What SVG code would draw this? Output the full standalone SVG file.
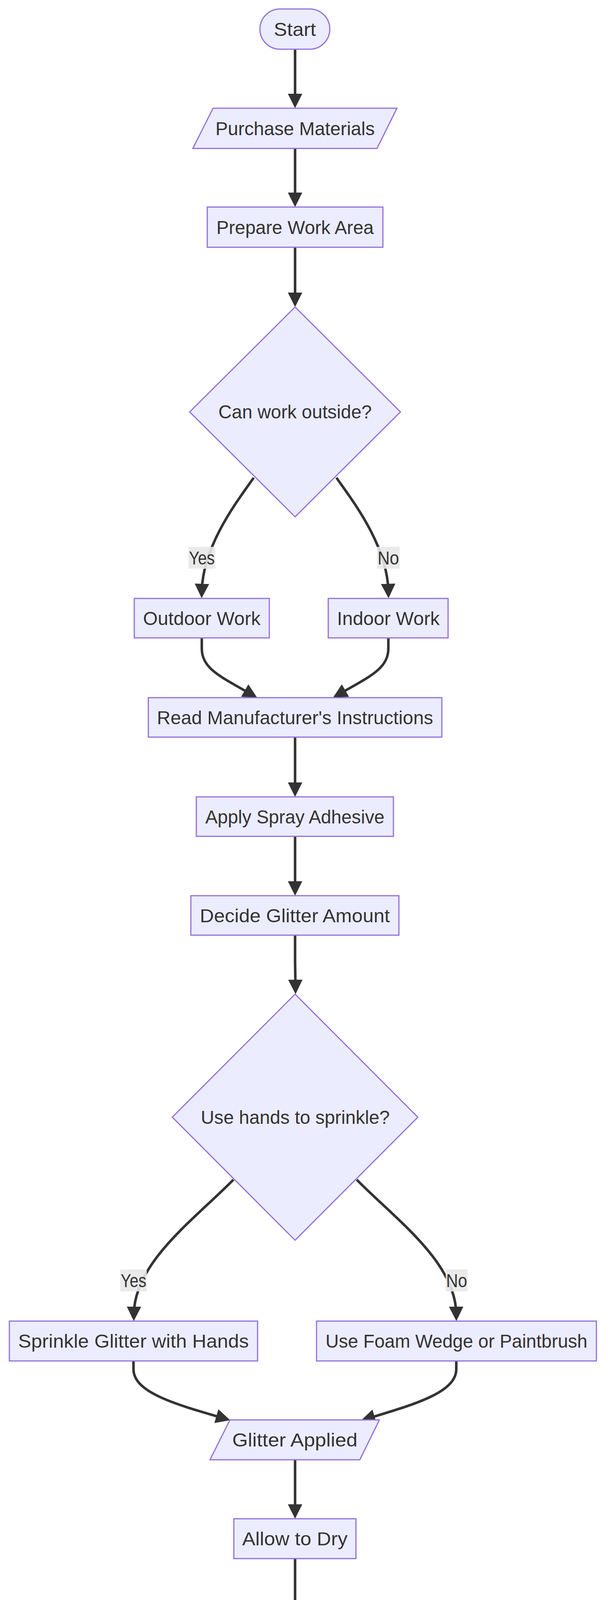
<svg xmlns="http://www.w3.org/2000/svg" width="1568" height="6070" viewBox="0 0 1568 6070">
<defs>
<style>
.node{fill:#ECECFF;stroke:#9370DB;stroke-width:3}
.edge{fill:none;stroke:#333333;stroke-width:6.5}
.lbl{fill:#333333;font-family:"Liberation Sans",Arial,sans-serif;font-size:48px;text-anchor:middle}
.elbg{fill:#e8e8e8;opacity:0.9}
</style>
<marker id="arrow" viewBox="0 0 10 10" refX="5" refY="5" markerUnits="userSpaceOnUse" markerWidth="37" markerHeight="37" orient="auto">
<path d="M0,0 L10,5 L0,10 z" fill="#333333"/>
</marker>
</defs>
<rect width="1568" height="6070" fill="#ffffff"/>
<g id="connectors">
<path class="edge" marker-end="url(#arrow)" d="M756,126 L756,258.5"/>
<path class="edge" marker-end="url(#arrow)" d="M756,380 L756,511.5"/>
<path class="edge" marker-end="url(#arrow)" d="M756,633 L756,767.5"/>
<path class="edge" marker-end="url(#arrow)" d="M650,1223 C610,1280 520,1395 517,1513"/>
<path class="edge" marker-end="url(#arrow)" d="M862,1223 C902,1280 992,1395 995,1513"/>
<path class="edge" marker-end="url(#arrow)" d="M517,1633 L517,1660 C517,1712 565,1732 643,1777"/>
<path class="edge" marker-end="url(#arrow)" d="M995,1633 L995,1660 C995,1712 947,1732 869,1777"/>
<path class="edge" marker-end="url(#arrow)" d="M756,1887 L756,2021.5"/>
<path class="edge" marker-end="url(#arrow)" d="M756,2141 L756,2274.5"/>
<path class="edge" marker-end="url(#arrow)" d="M756,2394 L756,2460 L757,2526.5"/>
<path class="edge" marker-end="url(#arrow)" d="M598,3020 C500,3120 345,3230 343,3363.5"/>
<path class="edge" marker-end="url(#arrow)" d="M914,3020 C1012,3120 1167,3230 1169,3363.5"/>
<path class="edge" marker-end="url(#arrow)" d="M342,3484 L342,3505 C342,3565 450,3595 572,3630.5"/>
<path class="edge" marker-end="url(#arrow)" d="M1169,3484 L1169,3505 C1169,3565 1062,3595 942,3631.5"/>
<path class="edge" marker-end="url(#arrow)" d="M756,3737 L756,3869.5"/>
<path class="edge" marker-end="url(#arrow)" d="M756,3990 L756,4123.5"/>
<path class="edge" marker-end="url(#arrow)" d="M756,4244 L756,4377.5"/>
<path class="edge" marker-end="url(#arrow)" d="M833,4784 C870,4860 921,4940 921,5046.5"/>
<path class="edge" marker-end="url(#arrow)" d="M680,4784 C630,4880 591,4950 591,5080 L591,5450 C591,5530 615,5570 674,5617"/>
<path class="edge" marker-end="url(#arrow)" d="M921,5167 L921,5270 L922,5356.5"/>
<path class="edge" marker-end="url(#arrow)" d="M922,5477 L922,5505 C922,5560 890,5580 837,5617"/>
<path class="edge" marker-end="url(#arrow)" d="M756,5730 L756,5863.5"/>
</g>
<g id="edge-labels">
<g id="label-yes-1"><rect class="elbg" x="483" y="1400" width="68" height="56"/><text class="lbl" x="517" y="1445" textLength="66" lengthAdjust="spacingAndGlyphs">Yes</text></g>
<g id="label-no-1"><rect class="elbg" x="966" y="1400" width="58" height="56"/><text class="lbl" x="995" y="1445" textLength="55" lengthAdjust="spacingAndGlyphs">No</text></g>
<g id="label-yes-2"><rect class="elbg" x="308" y="3250" width="68" height="56"/><text class="lbl" x="342" y="3295" textLength="66" lengthAdjust="spacingAndGlyphs">Yes</text></g>
<g id="label-no-2"><rect class="elbg" x="1142" y="3250" width="56" height="56"/><text class="lbl" x="1170" y="3295" textLength="54" lengthAdjust="spacingAndGlyphs">No</text></g>
<g id="label-yes-3"><rect class="elbg" x="887" y="4934" width="68" height="56"/><text class="lbl" x="921" y="4979" textLength="66" lengthAdjust="spacingAndGlyphs">Yes</text></g>
<g id="label-no-3"><rect class="elbg" x="562" y="5244" width="56" height="56"/><text class="lbl" x="590" y="5289" textLength="54" lengthAdjust="spacingAndGlyphs">No</text></g>
</g>
<g id="start"><rect class="node" x="666" y="23" width="179" height="103" rx="51.5" ry="51.5"/><text class="lbl" x="755.5" y="92" textLength="108" lengthAdjust="spacingAndGlyphs">Start</text></g>
<g id="purchase-materials"><polygon class="node" points="546,277 1017,277 966,380 494,380"/><text class="lbl" x="756" y="346" textLength="408" lengthAdjust="spacingAndGlyphs">Purchase Materials</text></g>
<g id="prepare-work-area"><rect class="node" x="531" y="530" width="450" height="103"/><text class="lbl" x="756" y="599" textLength="403" lengthAdjust="spacingAndGlyphs">Prepare Work Area</text></g>
<g id="can-work-outside"><polygon class="node" points="756,786 1026,1054.5 756,1323 486,1054.5"/><text class="lbl" x="756" y="1071" textLength="393" lengthAdjust="spacingAndGlyphs">Can work outside?</text></g>
<g id="outdoor-work"><rect class="node" x="344" y="1532" width="346" height="101"/><text class="lbl" x="517" y="1600" textLength="301" lengthAdjust="spacingAndGlyphs">Outdoor Work</text></g>
<g id="indoor-work"><rect class="node" x="841" y="1532" width="307" height="101"/><text class="lbl" x="995" y="1600" textLength="263" lengthAdjust="spacingAndGlyphs">Indoor Work</text></g>
<g id="read-instructions"><rect class="node" x="380" y="1786" width="752" height="101"/><text class="lbl" x="756" y="1854" textLength="708" lengthAdjust="spacingAndGlyphs">Read Manufacturer's Instructions</text></g>
<g id="apply-spray-adhesive"><rect class="node" x="503" y="2040" width="505" height="101"/><text class="lbl" x="755.5" y="2108" textLength="459" lengthAdjust="spacingAndGlyphs">Apply Spray Adhesive</text></g>
<g id="decide-glitter-amount"><rect class="node" x="489" y="2293" width="533" height="101"/><text class="lbl" x="755.5" y="2361" textLength="487" lengthAdjust="spacingAndGlyphs">Decide Glitter Amount</text></g>
<g id="use-hands"><polygon class="node" points="756,2545 1070.5,2860 756,3175 441.5,2860"/><text class="lbl" x="756.5" y="2877" textLength="484" lengthAdjust="spacingAndGlyphs">Use hands to sprinkle?</text></g>
<g id="sprinkle-glitter"><rect class="node" x="24" y="3382" width="636" height="102"/><text class="lbl" x="342" y="3450" textLength="591" lengthAdjust="spacingAndGlyphs">Sprinkle Glitter with Hands</text></g>
<g id="foam-wedge"><rect class="node" x="811" y="3382" width="717" height="102"/><text class="lbl" x="1169.5" y="3450" textLength="671" lengthAdjust="spacingAndGlyphs">Use Foam Wedge or Paintbrush</text></g>
<g id="glitter-applied"><polygon class="node" points="589,3635 972,3635 922,3737 538,3737"/><text class="lbl" x="755.5" y="3703" textLength="321" lengthAdjust="spacingAndGlyphs">Glitter Applied</text></g>
<g id="allow-to-dry"><rect class="node" x="599" y="3888" width="313" height="102"/><text class="lbl" x="755.5" y="3956" textLength="270" lengthAdjust="spacingAndGlyphs">Allow to Dry</text></g>
<g id="area-completely-dry"><polygon class="node" points="525,4142 1037,4142 987,4244 474,4244"/><text class="lbl" x="756" y="4210" textLength="451" lengthAdjust="spacingAndGlyphs">Area Completely Dry</text></g>
<g id="apply-sealant-decision"><polygon class="node" points="756,4396 987.5,4627 756,4857 524.5,4627"/><text class="lbl" x="755.5" y="4644" textLength="318" lengthAdjust="spacingAndGlyphs">Apply Sealant?</text></g>
<g id="apply-sealant"><rect class="node" x="750" y="5065" width="343" height="102"/><text class="lbl" x="921" y="5133" textLength="295" lengthAdjust="spacingAndGlyphs">Apply Sealant</text></g>
<g id="sealant-applied"><polygon class="node" points="747,5375 1147,5375 1097,5477 696,5477"/><text class="lbl" x="921" y="5443" textLength="338" lengthAdjust="spacingAndGlyphs">Sealant Applied</text></g>
<g id="shake-off"><rect class="node" x="471" y="5629" width="570" height="101"/><text class="lbl" x="756" y="5697" textLength="525" lengthAdjust="spacingAndGlyphs">Shake Off Excess Glitter</text></g>
<g id="end"><rect class="node" x="680" y="5882" width="151" height="102" rx="51" ry="51"/><text class="lbl" x="755.5" y="5950" textLength="81" lengthAdjust="spacingAndGlyphs">End</text></g>
</svg>
